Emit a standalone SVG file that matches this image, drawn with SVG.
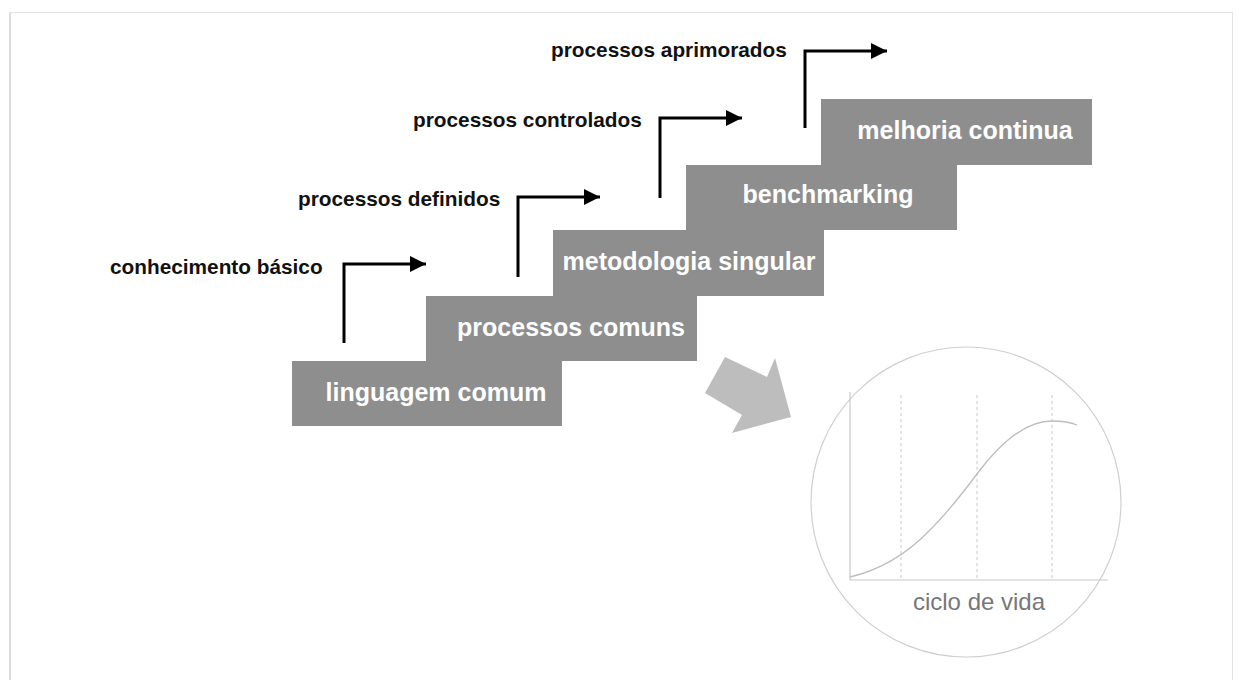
<svg xmlns="http://www.w3.org/2000/svg" width="1239" height="680" viewBox="0 0 1239 680">
<style>
.step{fill:#8e8e8e}
.stxt{font-family:"Liberation Sans",Arial,sans-serif;font-weight:bold;font-size:25px;fill:#ffffff;text-anchor:middle}
.lbl{font-family:"Liberation Sans",Arial,sans-serif;font-weight:bold;font-size:20.8px;fill:#111111}
.conn{fill:none;stroke:#000000;stroke-width:3}
.dash{stroke:#c8c8c8;stroke-width:1;stroke-dasharray:3,3}
</style>
<defs>
<marker id="ah" viewBox="0 0 10 10" refX="10" refY="5" markerWidth="5.5" markerHeight="6" markerUnits="strokeWidth" orient="auto">
<path d="M0,0 L10,5 L0,10 Z" fill="#000000"/>
</marker>
</defs>
<rect x="0" y="0" width="1239" height="680" fill="#ffffff"/>
<path d="M1232.5,690 V12.5 H10" fill="none" stroke="#e2e2e2" stroke-width="1"/>
<path d="M10,12.5 V690" fill="none" stroke="#c4c4c4" stroke-width="1.2"/>

<g id="step1"><rect class="step" x="292" y="361" width="270" height="65"/><text class="stxt" x="436" y="401">linguagem comum</text></g>
<g id="step2"><rect class="step" x="426" y="296" width="271" height="65"/><text class="stxt" x="571" y="336">processos comuns</text></g>
<g id="step3"><rect class="step" x="553" y="230" width="271" height="66"/><text class="stxt" x="689" y="270">metodologia singular</text></g>
<g id="step4"><rect class="step" x="686" y="165" width="271" height="65"/><text class="stxt" x="828" y="203">benchmarking</text></g>
<g id="step5"><rect class="step" x="821" y="99" width="271" height="66"/><text class="stxt" x="965" y="139">melhoria continua</text></g>

<g id="label1"><text class="lbl" x="110" y="274">conhecimento básico</text></g>
<g id="label2"><text class="lbl" x="298" y="206">processos definidos</text></g>
<g id="label3"><text class="lbl" x="413" y="127">processos controlados</text></g>
<g id="label4"><text class="lbl" x="551" y="57">processos aprimorados</text></g>

<g id="connectors">
<path class="conn" d="M344,343 V264 H426" marker-end="url(#ah)"/>
<path class="conn" d="M518,277 V197 H600" marker-end="url(#ah)"/>
<path class="conn" d="M660,198 V118 H742" marker-end="url(#ah)"/>
<path class="conn" d="M805,128 V51 H887" marker-end="url(#ah)"/>
</g>

<g id="bigarrow"><polygon points="725,357 767,377 775,358 791,417 732,433 742,415 705,393" fill="#bdbdbd"/></g>

<g id="lifecycle">
<circle cx="966" cy="502" r="155" fill="none" stroke="#cfcfcf" stroke-width="1.2"/>
<line x1="850" y1="392" x2="850" y2="580" stroke="#c8c8c8" stroke-width="1.2"/>
<line x1="850" y1="580" x2="1108" y2="580" stroke="#c8c8c8" stroke-width="1.2"/>
<line class="dash" x1="901" y1="395" x2="901" y2="580"/>
<line class="dash" x1="977" y1="395" x2="977" y2="580"/>
<line class="dash" x1="1052" y1="395" x2="1052" y2="580"/>
<path d="M850,577 C880,570 905,556 930,530 C950,510 965,490 977,474 C1000,443 1025,421 1052,421 C1062,421 1070,422 1077,425" fill="none" stroke="#bdbdbd" stroke-width="1.3"/>
<text x="979" y="610" font-family="Liberation Sans, Arial, sans-serif" font-size="24" fill="#777777" text-anchor="middle">ciclo de vida</text>
</g>
</svg>
